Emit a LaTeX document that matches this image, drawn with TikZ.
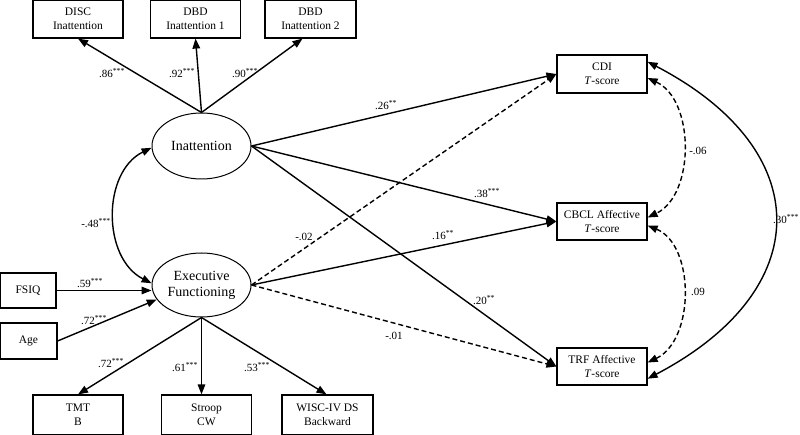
\documentclass[tikz,border=0pt]{standalone}
\usepackage{fontspec}
\setmainfont{Liberation Serif}
\usetikzlibrary{arrows.meta,shapes.geometric}

\tikzset{
  obs/.style={draw, line width=1.2pt, minimum width=90pt, minimum height=38pt,
    inner sep=0pt, align=center, font=\fontsize{11.5}{14}\selectfont},
  lat/.style={draw, ellipse, line width=1pt, minimum width=99pt,
    minimum height=66pt, inner sep=0pt, align=center,
    font=\fontsize{14}{16}\selectfont},
  coef/.style={inner sep=0pt, font=\fontsize{11}{13}\selectfont},
  reg/.style={line width=1.4pt, -{Triangle[length=10pt,width=7.5pt]}},
  nsreg/.style={reg, dash pattern=on 5pt off 3pt},
  cov/.style={line width=1.4pt, {Triangle[length=10pt,width=7.5pt]}-{Triangle[length=10pt,width=7.5pt]}},
  nscov/.style={cov, dash pattern=on 5pt off 3pt},
}

\begin{document}
\begin{tikzpicture}[x=1pt,y=-1pt]
\useasboundingbox (0,0) rectangle (800,435);
% latent factors
\node [lat] (inatt) at (201.5,146) {Inattention};
\node [lat, minimum height=64pt] (exec) at (201.5,285) {Executive\\Functioning};
% indicators
\node [obs] (disc) at (78,19) {DISC\\Inattention};
\node [obs] (dbda) at (195.5,19) {DBD\\Inattention 1};
\node [obs, minimum width=91pt] (dbdb) at (310.5,19) {DBD\\Inattention 2};
\node [obs, minimum height=40pt] (tmt) at (78,415) {TMT\\B};
\node [obs, minimum height=40pt] (stroop) at (206.5,415) {Stroop\\CW};
\node [obs, minimum height=40pt, minimum width=91pt] (wisc) at (327.5,415) {WISC-IV DS\\Backward};
% covariates
\node [obs, minimum width=56pt, minimum height=35pt] (fsiq) at (28,290.5) {FSIQ};
\node [obs, minimum width=57pt, minimum height=36pt] (age) at (28.5,341) {Age};
% outcomes
\node [obs] (cdi) at (602,74) {CDI\\\textit{T}-score};
\node [obs, minimum height=37pt] (cbcl) at (602,221.5) {CBCL Affective\\\textit{T}-score};
\node [obs, minimum height=37pt] (trf) at (602,366.5) {TRF Affective\\\textit{T}-score};

\draw [reg] (inatt.north) -- (disc.south);
\draw [reg] (inatt.north) -- (dbda.south);
\draw [reg] (inatt.north) -- ([xshift=-8pt]dbdb.south);
\draw [reg] (exec.south) -- (tmt.north);
\draw [reg] (exec.south) -- (exec.south |- stroop.north);
\draw [reg] (exec.south) -- ([xshift=-1pt]wisc.north);
\draw [reg] (fsiq.east) -- (fsiq.east -| exec.west);
\draw [reg] (age.east) -- (exec.198);
\draw [cov] (inatt.182) .. controls (102,172) and (102,258) .. (exec.178);

\draw [reg] (inatt.east) -- (cdi.west);
\draw [reg] (inatt.east) -- (cbcl.west);
\draw [reg] (inatt.east) -- (trf.west);
\draw [nsreg] (exec.east) -- (cdi.west);
\draw [reg] (exec.east) -- (cbcl.west);
\draw [nsreg] (exec.east) -- (trf.west);

\draw [nscov] (cdi.-5) .. controls (695,100) and (695,195) .. (cbcl.5);
\draw [nscov] (cbcl.-5) .. controls (695,245) and (695,340) .. (trf.5);
\draw [cov] (cdi.15) .. controls (817,150) and (817,290) .. (trf.-15);
% \draw [cov] (cdi.east) to [bend left=60] (trf.east);

\node [coef] (ldisc) at (112,73) {.86\textsuperscript{***}};
\node [coef] (ldbda) at (182,73) {.92\textsuperscript{***}};
\node [coef] (ldbdb) at (245,73) {.90\textsuperscript{***}};
\node [coef] (lcov) at (96,223) {-.48\textsuperscript{***}};
\node [coef] (lfsiq) at (90,283) {.59\textsuperscript{***}};
\node [coef] (lage) at (94,320) {.72\textsuperscript{***}};
\node [coef] (ltmt) at (111,363) {.72\textsuperscript{***}};
\node [coef] (lstroop) at (185,367) {.61\textsuperscript{***}};
\node [coef] (lwisc) at (257,367) {.53\textsuperscript{***}};
\node [coef] (lcdi) at (386,105) {.26\textsuperscript{**}};
\node [coef] (lcbcl) at (487,193) {.38\textsuperscript{***}};
\node [coef] (ltrf) at (484,300) {.20\textsuperscript{**}};
\node [coef] (lecdi) at (304,237) {-.02};
\node [coef] (lecbcl) at (443,235) {.16\textsuperscript{**}};
\node [coef] (letrf) at (394,336) {-.01};
\node [coef] (lcova) at (698,151) {-.06};
\node [coef] (lcovb) at (698,292) {.09};
\node [coef, anchor=west] (lcovc) at (773,219) {.30\textsuperscript{***}};
\end{tikzpicture}
\end{document}
